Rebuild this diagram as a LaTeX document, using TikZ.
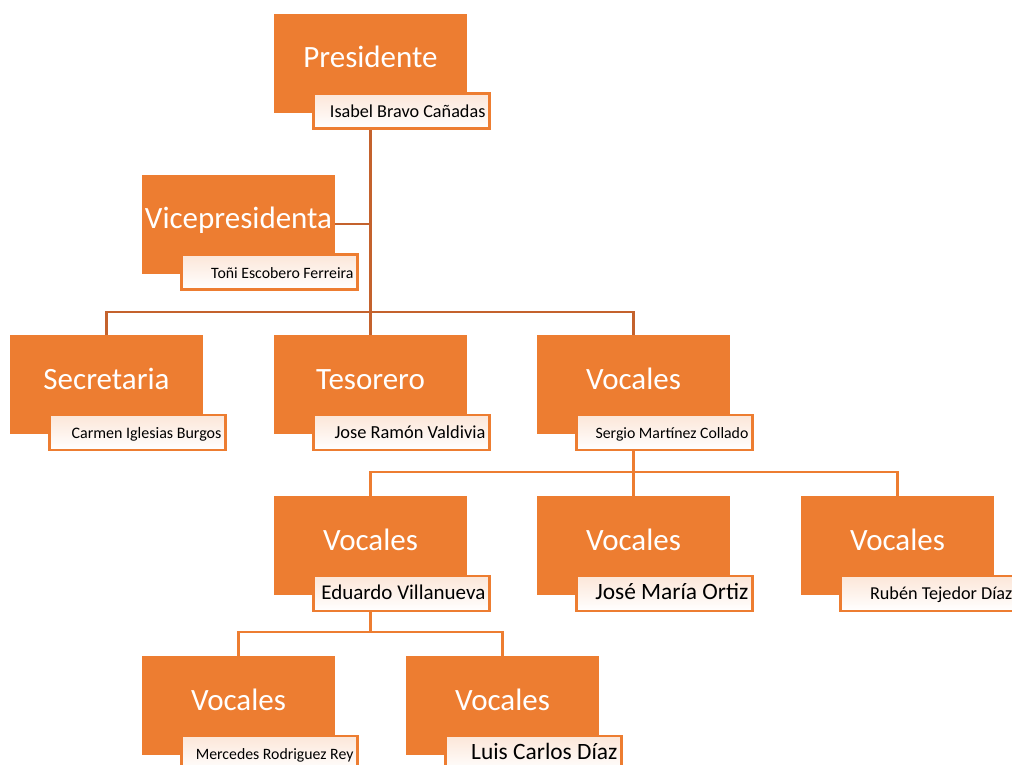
\documentclass[tikz,border=0pt]{standalone}
\usepackage{fontspec}
\setmainfont{Carlito}
\usetikzlibrary{calc,backgrounds}
\definecolor{org}{HTML}{ED7D31}
\definecolor{dk}{RGB}{196,98,45}
\definecolor{peach}{RGB}{252,230,216}
\tikzset{
 titlebox/.style={fill=org, draw=none, minimum width=193pt, minimum height=99pt, inner sep=0pt, outer sep=0pt},
 titletext/.style={text=white, font=\fontsize{31}{36}\selectfont, anchor=base, inner sep=0pt},
 namebox/.style={draw=org, line width=2.6pt, top color=peach, bottom color=white, minimum width=176pt, minimum height=35pt, inner sep=0pt, anchor=north west},
 nametext/.style={anchor=base east, inner sep=0pt, text=black},
 connA/.style={draw=dk, line width=2.4pt},
 connB/.style={draw=org, line width=2.4pt},
}
\newcommand\orgunit[6]{%
 \node[titlebox] (#1) at (#2,#3) {};
 \node[titletext] (#1t) at ($(#1.north)+(0,54)$) {#4};
 \node[namebox] (#1n) at ($(#1.south west)+(38,-20.5)$) {};
 \node[nametext, font=\fontsize{#6}{#6}\selectfont] (#1p) at ($(#1n.north east)+(-5,25)$) {#5};
}
\begin{document}
\begin{tikzpicture}[x=1pt,y=-1pt]
\useasboundingbox (0,0) rectangle (1012,764);
\clip (0,0) rectangle (1012,764);
\orgunit{P}{370.5}{63}{Presidente}{Isabel Bravo Cañadas}{18.2}
\orgunit{VP}{238.5}{224}{Vicepresidenta}{Toñi Escobero Ferreira}{15.8}
\orgunit{Sec}{106.5}{384.5}{Secretaria}{Carmen Iglesias Burgos}{16}
\orgunit{Tes}{370.5}{384.5}{Tesorero}{Jose Ramón Valdivia}{18.4}
\orgunit{Voc}{633.5}{384.5}{Vocales}{Sergio Martínez Collado}{15.8}
\orgunit{Va}{370.5}{545.5}{Vocales}{Eduardo Villanueva}{21}
\orgunit{Vb}{633.5}{545.5}{Vocales}{José María Ortiz}{23.4}
\orgunit{Vc}{897.5}{545.5}{Vocales}{Rubén Tejedor Díaz}{18.2}
\orgunit{Vd}{238.5}{705.5}{Vocales}{Mercedes Rodriguez Rey}{15.8}
\orgunit{Ve}{502.5}{705.5}{Vocales}{Luis Carlos Díaz}{23.4}
\begin{scope}[on background layer]
\draw[connA] (P.south) -- (P.south |- Tes.north);
\draw[connA] (VP.east) -- (VP.east -| P.south);
\draw[connA] (Sec.north) -- ++(0,-23) -| (Voc.north);
\draw[connB] (Voc.south) -- (Vb.north);
\draw[connB] (Va.north) -- ++(0,-24) -| (Vc.north);
\draw[connB] (Va.south) -- ++(0,37);
\draw[connB] (Vd.north) -- ++(0,-24) -| (Ve.north);
\end{scope}
\end{tikzpicture}
\end{document}
